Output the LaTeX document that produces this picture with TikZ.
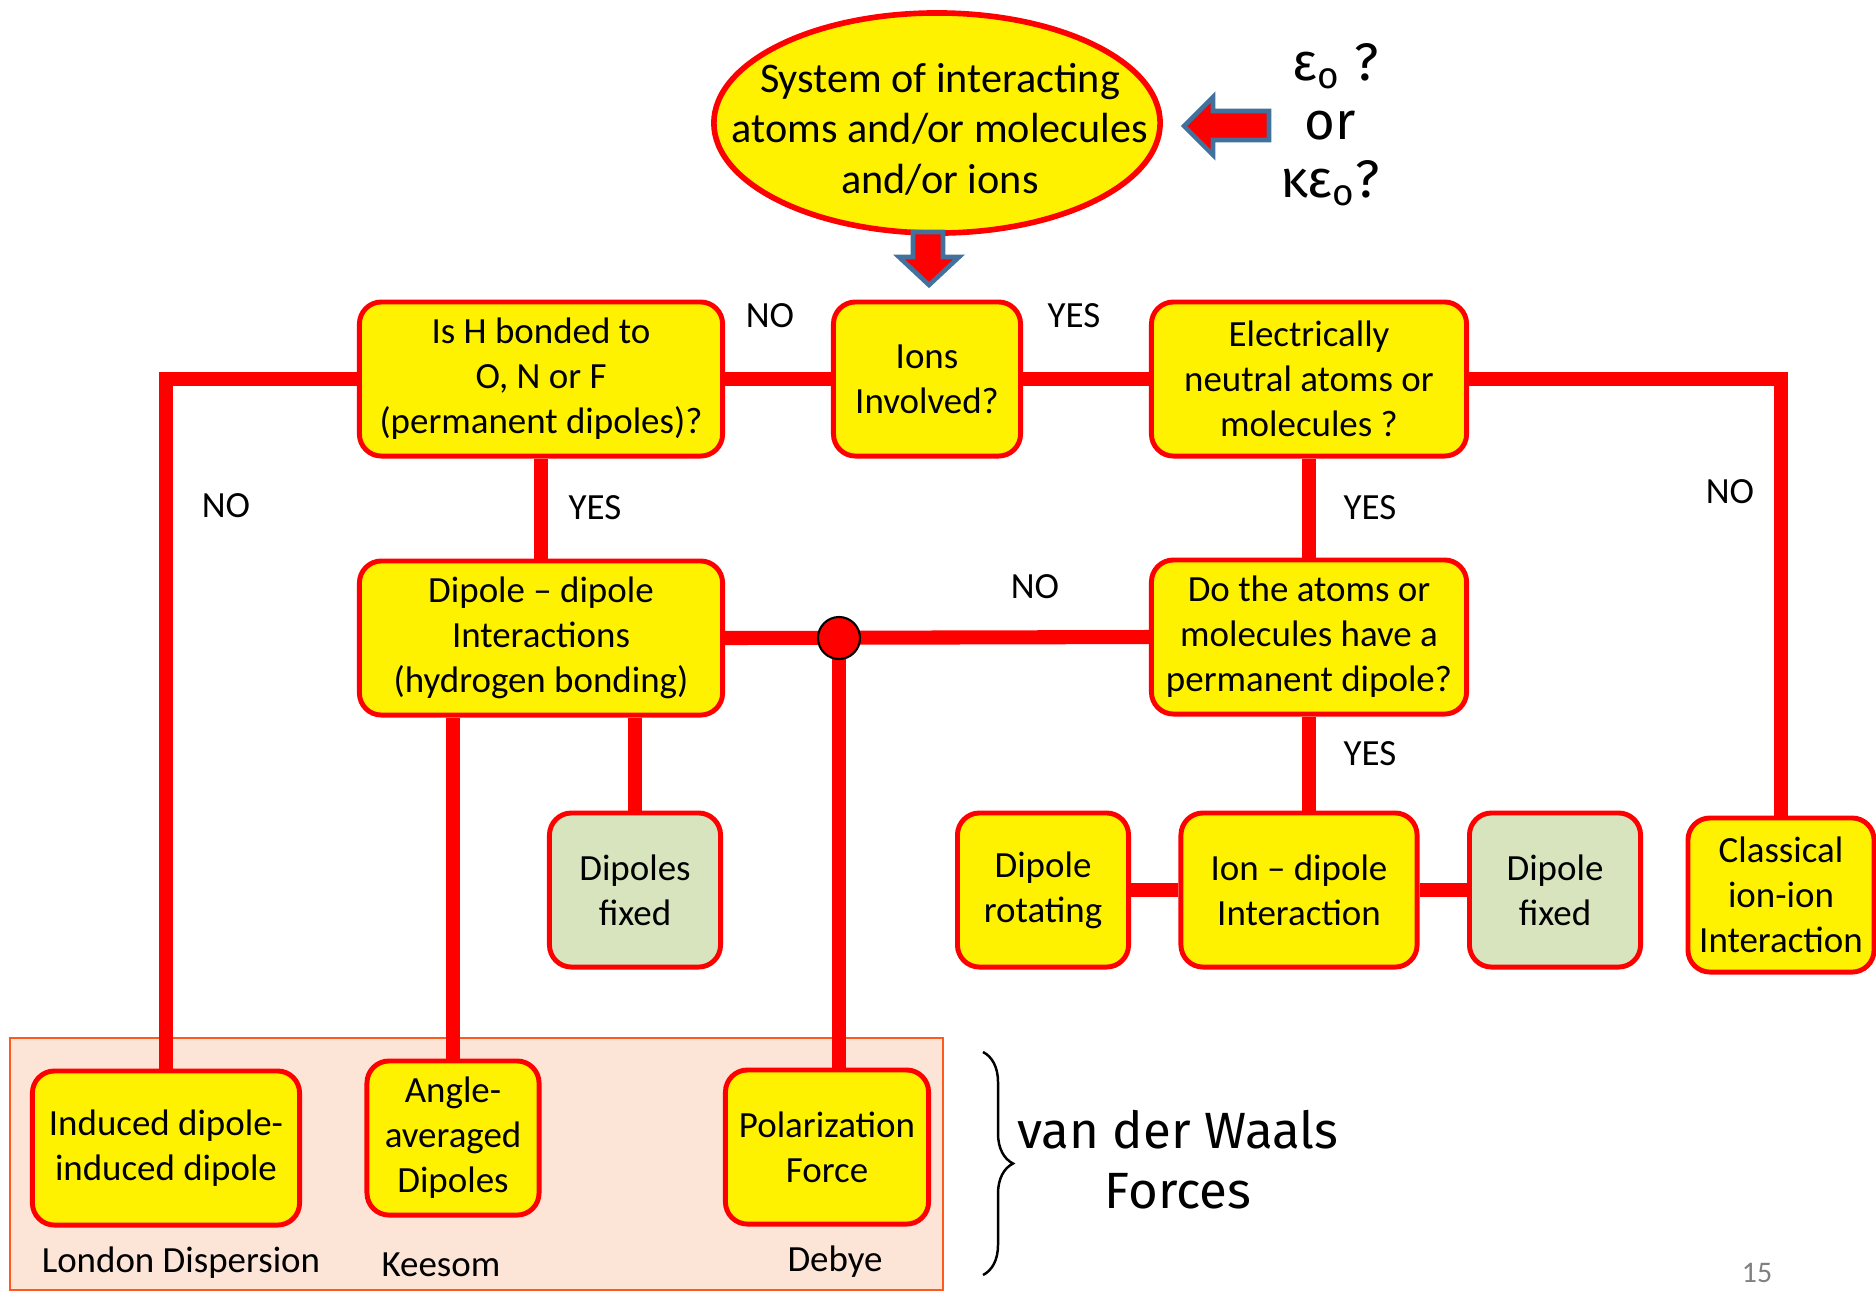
\documentclass[tikz,border=0pt]{standalone}
\usepackage{fontspec}
\setmainfont{Carlito}
\newfontfamily\handfont{Fira Sans}
\usetikzlibrary{shapes.geometric,decorations.pathreplacing}
\definecolor{boxgreen}{HTML}{D7E4BD}
\definecolor{peach}{HTML}{FCE4D6}
\definecolor{peachline}{HTML}{FF5A1E}
\definecolor{arrowblue}{HTML}{41719C}
\tikzset{
  qbox/.style={draw=red, line width=1.4pt, fill=yellow, rounded corners=0.22cm,
    align=center, inner sep=2pt, minimum height=1.54cm,
    font=\fontsize{10.5}{12.8}\selectfont},
  gbox/.style={qbox, fill=boxgreen},
  link/.style={draw=red, line width=4pt},
  lbl/.style={font=\fontsize{10.5}{12.8}\selectfont},
  blockarrow/.style={fill=red, draw=arrowblue, line width=1.3pt, line join=miter},
  junc/.style={circle, fill=red, draw=black, line width=0.6pt, minimum size=0.42cm, inner sep=0pt},
  hand/.style={font=\handfont\fontsize{15}{18}\selectfont, inner sep=0pt},
}
\begin{document}
\begin{tikzpicture}[x=0.01cm, y=-0.01cm]
      \useasboundingbox (0,0) rectangle (1876,1293);
      \draw[draw=peachline, fill=peach, line width=0.7pt] (10,1038) rectangle (943,1290);
      \filldraw[draw=red, fill=yellow, line width=1.6pt] (937,123) ellipse [x radius=2.23cm, y radius=1.1cm];
      \draw
        (940,129) node[align=center, font=\fontsize{12}{14.4}\selectfont] (system) {System of interacting\\atoms and/or molecules\\and/or ions}
        (541,379) node[qbox, minimum width=3.63cm] (hbond) {Is H bonded to\\O, N or F\\(permanent dipoles)?}
        (927,379) node[qbox, minimum width=1.87cm] (ions) {Ions\\Involved?}
        (1309,379) node[qbox, minimum width=3.15cm] (neutral) {Electrically\\neutral atoms or\\molecules ?}
        (541,638) node[qbox, minimum width=3.63cm] (dipdip) {Dipole -- dipole\\Interactions\\(hydrogen bonding)}
        (1309,637) node[qbox, minimum width=3.15cm] (permdip) {Do the atoms or\\molecules have a\\permanent dipole?}
        (635,890) node[gbox, minimum width=1.71cm] (fixeda) {Dipoles\\fixed}
        (1043,890) node[qbox, minimum width=1.71cm] (diprot) {Dipole\\rotating}
        (1299,890) node[qbox, minimum width=2.36cm] (iondip) {Ion -- dipole\\Interaction}
        (1555,890) node[gbox, minimum width=1.71cm] (fixedb) {Dipole\\fixed}
        (1781,895) node[qbox, minimum width=1.86cm] (classical) {Classical\\ion-ion\\Interaction}
        (166,1148) node[qbox, minimum width=2.67cm] (induced) {Induced dipole-\\induced dipole}
        (453,1138) node[qbox, minimum width=1.72cm] (angle) {Angle-\\averaged\\Dipoles}
        (827,1147) node[qbox, minimum width=2.03cm] (polar) {Polarization\\Force};
      \coordinate (jn) at (839,638);
      \begin{scope}[link]
        \draw (hbond.west) -| (induced.north);
        \draw (hbond.east) to (ions.west);
        \draw (ions.east) to (neutral.west);
        \draw (neutral.east) -| (classical.north);
        \draw (hbond.south) to (dipdip.north);
        \draw (neutral.south) to (permdip.north);
        \draw (dipdip.east) to (permdip.west);
        \draw (permdip.south) to (permdip.south |- iondip.north);
        \draw (diprot.east) to (iondip.west);
        \draw (iondip.east) to (fixedb.west);
        \draw (dipdip.south -| angle.north) to (angle.north);
        \draw (dipdip.south -| fixeda.north) to (fixeda.north);
        \draw (jn) to (jn |- polar.north);
      \end{scope}
      \node[junc] (junction) at (jn) {};
      \filldraw[blockarrow] (929,285) -- (899,257) -- (913,257) -- (913,232) -- (943,232)
        -- (943,257) -- (959,257) -- cycle;
      \filldraw[blockarrow] (1184,126) -- (1213,97) -- (1213,111) -- (1269,111) -- (1269,140)
        -- (1213,140) -- (1213,155) -- cycle;
      \draw
        (1336,66) node[hand] (eps) {ε\textsubscript{o} ?}
        (1330,126) node[hand] (or) {or}
        (1330,183) node[hand] (keps) {κε\textsubscript{o}?}
        (770,316) node[lbl] (no1) {NO}
        (1074,316) node[lbl] (yes1) {YES}
        (226,506) node[lbl] (no2) {NO}
        (595,508) node[lbl] (yes2) {YES}
        (1370,508) node[lbl] (yes3) {YES}
        (1730,492) node[lbl] (no3) {NO}
        (1035,587) node[lbl] (no4) {NO}
        (1370,754) node[lbl] (yes4) {YES}
        (181,1263) node[lbl] (london) {London Dispersion}
        (441,1265) node[lbl] (keesom) {Keesom}
        (835,1262) node[lbl] (debye) {Debye}
        (1178,1160) node[hand, font=\handfont\fontsize{14.5}{17}\selectfont, align=center] (vdw) {van der Waals\\Forces}
        (1757,1273) node[font=\fontsize{8.5}{10}\selectfont, text=gray] (pgnum) {15};
      \draw[decorate, decoration={brace, amplitude=0.3cm}, line width=0.7pt] (983,1052) -- (983,1275);
    \end{tikzpicture}
\end{document}
